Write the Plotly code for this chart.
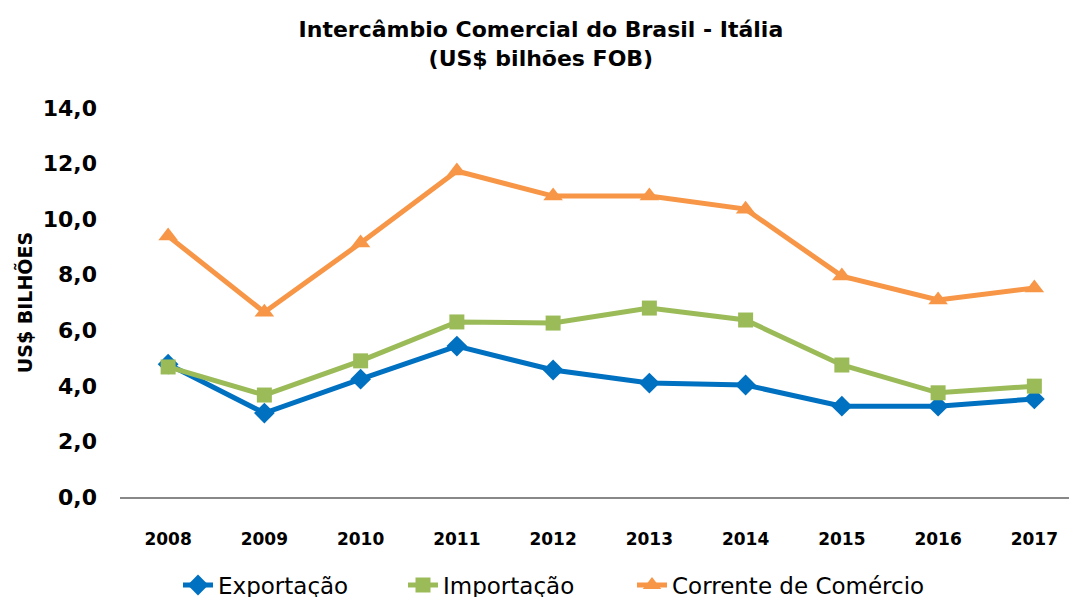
import plotly.graph_objects as go

years = ["2008", "2009", "2010", "2011", "2012", "2013", "2014", "2015", "2016", "2017"]
exportacao = [4.78, 3.02, 4.24, 5.43, 4.57, 4.10, 4.03, 3.27, 3.27, 3.53]
importacao = [4.68, 3.67, 4.90, 6.30, 6.26, 6.80, 6.37, 4.75, 3.75, 3.99]
corrente = [9.39, 6.65, 9.14, 11.73, 10.83, 10.83, 10.36, 7.95, 7.09, 7.52]

FONT = "DejaVu Sans"

fig = go.Figure()
fig.add_trace(go.Scatter(x=years, y=exportacao, name="Exportação", mode="lines+markers",
                         line=dict(color="#0070C0", width=5), legend="legend",
                         marker=dict(symbol="diamond", size=16, color="#0070C0")))
fig.add_trace(go.Scatter(x=years, y=importacao, name="Importação", mode="lines+markers",
                         line=dict(color="#9BBB59", width=5), legend="legend2",
                         marker=dict(symbol="square", size=15, color="#9BBB59")))
fig.add_trace(go.Scatter(x=years, y=corrente, name="Corrente de Comércio", mode="lines+markers",
                         line=dict(color="#F79646", width=5), legend="legend3",
                         marker=dict(symbol="triangle-up", size=17, color="#F79646")))

def leg(xpix):
    return dict(orientation="h", xref="container", yref="container",
                x=(xpix - 40) / 1069, xanchor="left", y=0.02, yanchor="middle",
                font=dict(family=FONT, size=23, color="black"), bgcolor="rgba(0,0,0,0)")

fig.update_layout(
    width=1069, height=597,
    paper_bgcolor="white", plot_bgcolor="white",
    margin=dict(l=120, r=0, t=108, b=100),
    separators=", ",
    font=dict(family=FONT, color="black"),
    title=dict(text="<b>Intercâmbio Comercial do Brasil - Itália<br>(US$ bilhões FOB)</b>",
               x=0.506, xanchor="center", y=0.938, yanchor="top",
               font=dict(family=FONT, size=22, color="black")),
    xaxis=dict(type="category", range=[-0.5, 9.36], showgrid=False, zeroline=False,
               showline=True, linecolor="#888888", linewidth=2,
               ticks="", ticklabelstandoff=26,
               tickfont=dict(family=FONT, size=17, color="black", weight="bold")),
    yaxis=dict(range=[0, 14], dtick=2, tickformat=".1f", showgrid=False, zeroline=False,
               showline=False, ticks="", ticklabelstandoff=22,
               tickfont=dict(family=FONT, size=22, color="black", weight="bold"),
               title=dict(text="<b>US$ BILHÕES</b>", standoff=5,
                          font=dict(family=FONT, size=19, color="black"))),
    legend=leg(218),
    legend2=leg(443),
    legend3=leg(672),
    showlegend=True,
)

fig.write_html("out.html", config={"displayModeBar": False},
               post_script="document.body.style.margin='0';document.body.style.overflow='hidden';")
